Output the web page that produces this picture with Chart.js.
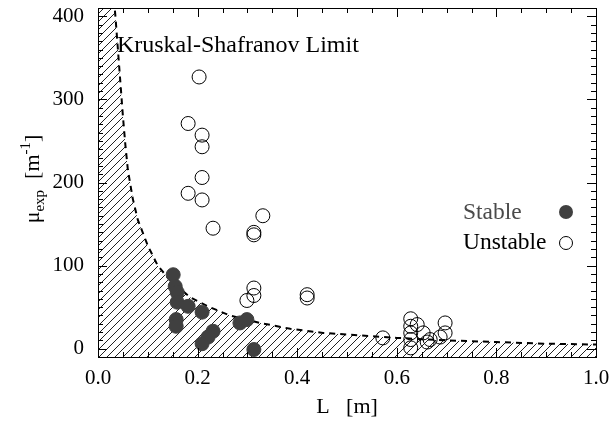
<!DOCTYPE html>
<html>
<head>
<meta charset="utf-8">
<script src="https://cdn.jsdelivr.net/npm/chart.js@4"></script>
<style>
  html, body { margin: 0; padding: 0; background: #fff; }
</style>
</head>
<body>
<canvas id="myChart" width="611" height="428"></canvas>
<script>
// stable discharges (filled dots)
let stableL = [0.151, 0.155, 0.159, 0.159, 0.181, 0.209, 0.157, 0.157, 0.231, 0.221, 0.209, 0.285, 0.299, 0.313];
let stableMu = [89, 75, 68, 56, 51, 44, 35, 27, 21, 14, 6, 31, 35, -1];

// unstable discharges (open circles)
let unstableL = [0.203, 0.181, 0.209, 0.209, 0.209, 0.181, 0.209, 0.231, 0.331, 0.313, 0.313,
  0.313, 0.313, 0.299, 0.420, 0.420, 0.572, 0.628, 0.628, 0.641, 0.628, 0.653, 0.628, 0.628,
  0.661, 0.667, 0.687, 0.697, 0.697];
let unstableMu = [327, 271, 257, 243, 206, 187, 179, 145, 160, 140, 137,
  73, 64, 58, 65, 61, 13, 36, 27, 29, 19, 19, 11, 1,
  8, 11, 14, 31, 19];

// Kruskal-Shafranov limit curve
let limitL = [0.032, 0.035, 0.040, 0.045, 0.050, 0.055, 0.060, 0.070, 0.080, 0.100, 0.120,
  0.145, 0.185, 0.220, 0.265, 0.325, 0.386, 0.452, 0.500, 0.600, 0.700, 0.800, 0.900, 1.000];
let limitMu = [420, 400, 360, 320, 280, 245, 215, 180, 155, 124, 100,
  82, 62, 51, 40, 31, 24, 19, 17, 13, 10, 8, 6, 5];

let xTicks = [0, 0.2, 0.4, 0.6, 0.8, 1.0];
let yTicks = [0, 100, 200, 300, 400];
const xMin = 0, xMax = 1, yMin = -10, yMax = 410;

const FONT = "'Liberation Serif', 'Times New Roman', serif";
const ctx = document.getElementById("myChart");

function hatchPattern() {
  const c = document.createElement("canvas");
  c.width = 8;
  c.height = 8;
  const g = c.getContext("2d");
  g.strokeStyle = "#222";
  g.lineWidth = 1;
  g.beginPath();
  g.moveTo(0, 8); g.lineTo(8, 0);
  g.moveTo(-1, 1); g.lineTo(1, -1);
  g.moveTo(7, 9); g.lineTo(9, 7);
  g.stroke();
  return g.createPattern(c, "repeat");
}

const toPoints = (xs, ys) => xs.map((x, i) => ({ x: x, y: ys[i] }));
const limitPts = toPoints(limitL, limitMu);

// inward ticks on all four sides, frame, labels
const decorations = {
  id: "decorations",
  afterDraw(chart) {
    const g = chart.ctx;
    const a = chart.chartArea;
    const xs = chart.scales.x, ys = chart.scales.y;
    g.save();
    g.strokeStyle = "#000";
    g.lineWidth = 1;
    g.beginPath();
    for (let i = 0; i <= 20; i++) {
      const v = i * 0.05;
      const px = Math.round(xs.getPixelForValue(v)) + 0.5;
      const len = i % 4 === 0 ? 9 : 5;
      g.moveTo(px, a.bottom); g.lineTo(px, a.bottom - len);
      g.moveTo(px, a.top); g.lineTo(px, a.top + len);
    }
    for (let v = 0; v <= 400; v += 10) {
      const py = Math.round(ys.getPixelForValue(v)) + 0.5;
      const len = v % 100 === 0 ? 9 : 5;
      g.moveTo(a.left, py); g.lineTo(a.left + len, py);
      g.moveTo(a.right, py); g.lineTo(a.right - len, py);
    }
    g.stroke();
    g.strokeRect(Math.round(a.left) + 0.5, Math.round(a.top) + 0.5,
      Math.round(a.right - a.left), Math.round(a.bottom - a.top));

    // curve label
    g.fillStyle = "#000";
    g.font = "24px " + FONT;
    g.textBaseline = "middle";
    g.textAlign = "left";
    g.fillText("Kruskal-Shafranov Limit", xs.getPixelForValue(0.038), ys.getPixelForValue(365));

    // legend
    g.font = "23.5px " + FONT;
    g.fillStyle = "#4a4a4a";
    g.fillText("Stable", 463, 213);
    g.fillStyle = "#000";
    g.fillText("Unstable", 463, 243);
    g.beginPath();
    g.arc(566, 212, 7, 0, Math.PI * 2);
    g.fillStyle = "#404040";
    g.fill();
    g.beginPath();
    g.arc(566, 243, 6.5, 0, Math.PI * 2);
    g.stroke();

    // y axis title with sub/superscript
    const parts = [
      { t: "\u03bc", size: 22, dy: 0 },
      { t: "exp", size: 15, dy: 5 },
      { t: "  [m", size: 22, dy: 0 },
      { t: "-1", size: 15, dy: -9 },
      { t: "]", size: 22, dy: 0 },
    ];
    let total = 0;
    parts.forEach((p) => {
      g.font = p.size + "px " + FONT;
      p.w = g.measureText(p.t).width;
      total += p.w;
    });
    g.translate(32, 179);
    g.rotate(-Math.PI / 2);
    g.fillStyle = "#000";
    g.textBaseline = "alphabetic";
    let cx = -total / 2;
    parts.forEach((p) => {
      g.font = p.size + "px " + FONT;
      g.fillText(p.t, cx, 7 + p.dy);
      cx += p.w;
    });
    g.restore();
  },
};

new Chart(ctx, {
  type: "scatter",
  data: {
    datasets: [
      {
        // hatched region below the limit
        data: [{ x: 0, y: 420 }].concat(limitPts),
        showLine: true,
        fill: "start",
        backgroundColor: hatchPattern(),
        borderWidth: 0,
        borderColor: "rgba(0,0,0,0)",
        pointRadius: 0,
        order: 4,
      },
      {
        data: limitPts,
        showLine: true,
        fill: false,
        borderColor: "#000",
        borderWidth: 2,
        borderDash: [6, 5],
        pointRadius: 0,
        order: 3,
      },
      {
        data: toPoints(stableL, stableMu),
        pointRadius: 7,
        pointBorderWidth: 1,
        pointBackgroundColor: "#404040",
        pointBorderColor: "#404040",
        order: 2,
      },
      {
        data: toPoints(unstableL, unstableMu),
        pointRadius: 7,
        pointBorderWidth: 1,
        pointBackgroundColor: "rgba(0,0,0,0)",
        pointBorderColor: "#000",
        order: 1,
      },
    ],
  },
  options: {
    responsive: false,
    animation: false,
    events: [],
    layout: { padding: { top: 4, right: 15, left: 0, bottom: 0 } },
    plugins: { legend: { display: false }, tooltip: { enabled: false } },
    scales: {
      x: {
        type: "linear",
        min: xMin,
        max: xMax,
        afterBuildTicks: (s) => { s.ticks = xTicks.map((v) => ({ value: v })); },
        afterFit: (s) => {
          s.height = 71;
          s.paddingLeft = 0;
          s.paddingRight = 0;
        },
        grid: { display: false },
        border: { display: false },
        ticks: {
          padding: 1,
          color: "#000",
          font: { family: FONT, size: 21 },
          maxRotation: 0,
          callback: (v) => v.toFixed(1),
        },
        title: {
          display: true,
          text: "L   [m]",
          color: "#000",
          font: { family: FONT, size: 22 },
          padding: { top: 0, bottom: 8 },
        },
      },
      y: {
        type: "linear",
        min: yMin,
        max: yMax,
        afterBuildTicks: (s) => { s.ticks = yTicks.map((v) => ({ value: v })); },
        afterFit: (s) => {
          s.width = 98;
          s.paddingTop = 0;
          s.paddingBottom = 0;
        },
        grid: { display: false },
        border: { display: false },
        ticks: {
          padding: 6,
          color: "#000",
          font: { family: FONT, size: 21 },
          callback: (v) => String(v),
        },
      },
    },
  },
  plugins: [decorations],
});
</script>
</body>
</html>
